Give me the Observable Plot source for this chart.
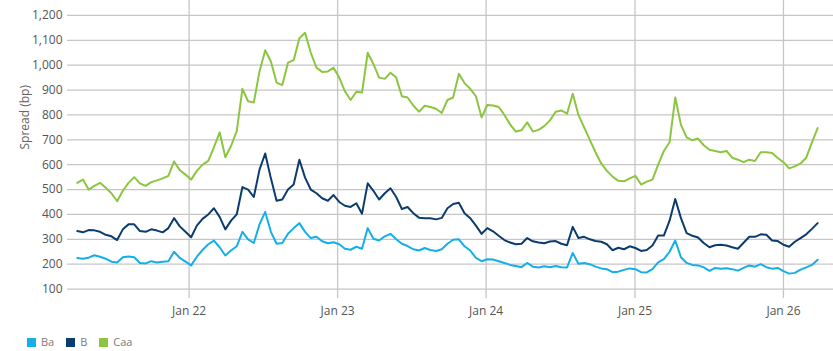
<!DOCTYPE html>
<html>
<head>
<meta charset="utf-8">
<script src="https://cdn.jsdelivr.net/npm/d3@7"></script>
<script src="https://cdn.jsdelivr.net/npm/@observablehq/plot@0.6"></script>
<style>
  body { margin: 0; background: #fff; font-family: "Open Sans", "DejaVu Sans", sans-serif; }
  #chart svg { display: block; }
  #legend { display: flex; align-items: center; padding-left: 27px; margin-top: 8px; font-size: 11px; line-height: 12px; color: #7a7a7a; }
  .item { display: flex; align-items: center; margin-right: 12px; }
  .sw { width: 9px; height: 9px; margin-right: 5px; }
</style>
</head>
<body>
<div id="chart"></div>
<div id="legend"></div>
<script>
// Biweekly observations starting 2021-04-01
const startDate = "2021-04-01";
const stepDays = 14;

const ba = [225,222,226,236,230,222,210,207,228,231,228,205,203,212,207,210,212,250,225,210,
  195,230,257,280,295,268,235,255,272,330,300,285,360,410,330,282,285,322,345,365,
  330,305,310,292,284,288,280,262,258,270,262,345,302,295,312,322,300,282,273,260,
  255,265,257,253,260,282,298,300,272,255,225,212,220,219,212,205,197,193,188,205,
  190,187,192,188,193,188,187,245,202,205,200,190,183,180,168,170,177,183,180,168,
  167,180,207,220,250,295,228,205,197,195,187,173,185,182,184,180,174,185,195,190,
  200,188,182,185,172,162,165,178,187,197,218];

const b = [333,328,337,336,330,318,312,297,340,360,360,333,330,340,335,328,345,385,352,330,
  308,355,382,400,425,390,340,375,400,510,500,470,580,645,545,455,460,500,520,620,
  548,500,485,465,455,478,450,435,430,445,403,525,495,460,485,505,470,422,430,405,
  387,385,385,380,386,425,442,447,405,385,355,322,345,332,314,297,287,280,282,305,
  292,287,284,291,293,282,276,350,305,310,300,293,290,280,256,266,260,272,265,253,
  257,275,315,315,375,462,385,325,314,307,285,268,276,278,275,268,262,286,310,310,
  320,318,295,293,278,270,290,305,320,342,365];

const caa = [527,540,500,515,527,507,485,453,495,527,550,525,515,530,537,545,555,613,578,560,
  540,575,600,615,670,730,630,675,735,905,855,850,975,1060,1015,930,920,1010,1020,1108,
  1130,1050,990,973,975,990,950,895,860,893,890,1050,1005,950,945,970,950,875,870,838,
  813,837,832,825,808,860,870,965,928,905,875,790,840,838,832,800,762,733,738,770,
  733,740,755,778,813,818,805,885,800,750,700,650,605,575,552,535,533,545,555,520,
  532,540,600,655,690,870,760,710,698,705,678,660,655,650,655,628,620,610,620,615,
  650,650,647,627,610,585,593,605,628,690,747];

const seriesNames = ["Ba", "B", "Caa"];
const seriesColors = ["#14afe9", "#0b3c6d", "#8cc540"];
const yTicks = [100,200,300,400,500,600,700,800,900,1000,1100,1200];
const xTickDates = ["2022-01-01","2023-01-01","2024-01-01","2025-01-01","2026-01-01"];
const xDomain = ["2021-03-08", "2026-05-04"];
const yDomain = [62, 1260];

const t0 = new Date(startDate + "T00:00:00Z");
const dateAt = i => d3.utcDay.offset(t0, i * stepDays);
const rows = [];
[ba, b, caa].forEach((vals, s) => vals.forEach((v, i) => rows.push({date: dateAt(i), value: v, series: seriesNames[s]})));

const xt = xTickDates.map(d => new Date(d + "T00:00:00Z"));

const chart = Plot.plot({
  width: 833,
  height: 328,
  marginLeft: 67,
  marginRight: 0,
  marginTop: 0,
  marginBottom: 30,
  style: {fontFamily: "'Open Sans', 'DejaVu Sans', sans-serif", fontSize: "12px", color: "#555", background: "#fff"},
  x: {type: "utc", domain: xDomain.map(d => new Date(d + "T00:00:00Z"))},
  y: {domain: yDomain},
  color: {domain: seriesNames, range: seriesColors},
  marks: [
    Plot.gridY(yTicks, {stroke: "#c6c6c6", strokeOpacity: 1, strokeWidth: 1.3}),
    Plot.gridX(xt, {stroke: "#c6c6c6", strokeOpacity: 1, strokeWidth: 1.3}),
    Plot.axisY(yTicks, {tickSize: 0, tickPadding: 5, tickFormat: d3.format(","), label: null, fill: "#555", fontSize: 12}),
    Plot.axisX(xt, {tickSize: 0, tickPadding: 8, tickFormat: d3.utcFormat("%b %y"), label: null, fill: "#555", fontSize: 12}),
    Plot.text(["Spread (bp)"], {frameAnchor: "left", dx: -42, rotate: -90, fill: "#666", fontSize: 12}),
    Plot.line(rows, {x: "date", y: "value", z: "series", stroke: "series", strokeWidth: 2, strokeLinejoin: "round"})
  ]
});
document.getElementById("chart").append(chart);

const legend = document.getElementById("legend");
seriesNames.forEach((n, i) => {
  const it = document.createElement("div");
  it.className = "item";
  const sw = document.createElement("span");
  sw.className = "sw";
  sw.style.background = seriesColors[i];
  it.append(sw, document.createTextNode(n));
  legend.append(it);
});
</script>
</body>
</html>
